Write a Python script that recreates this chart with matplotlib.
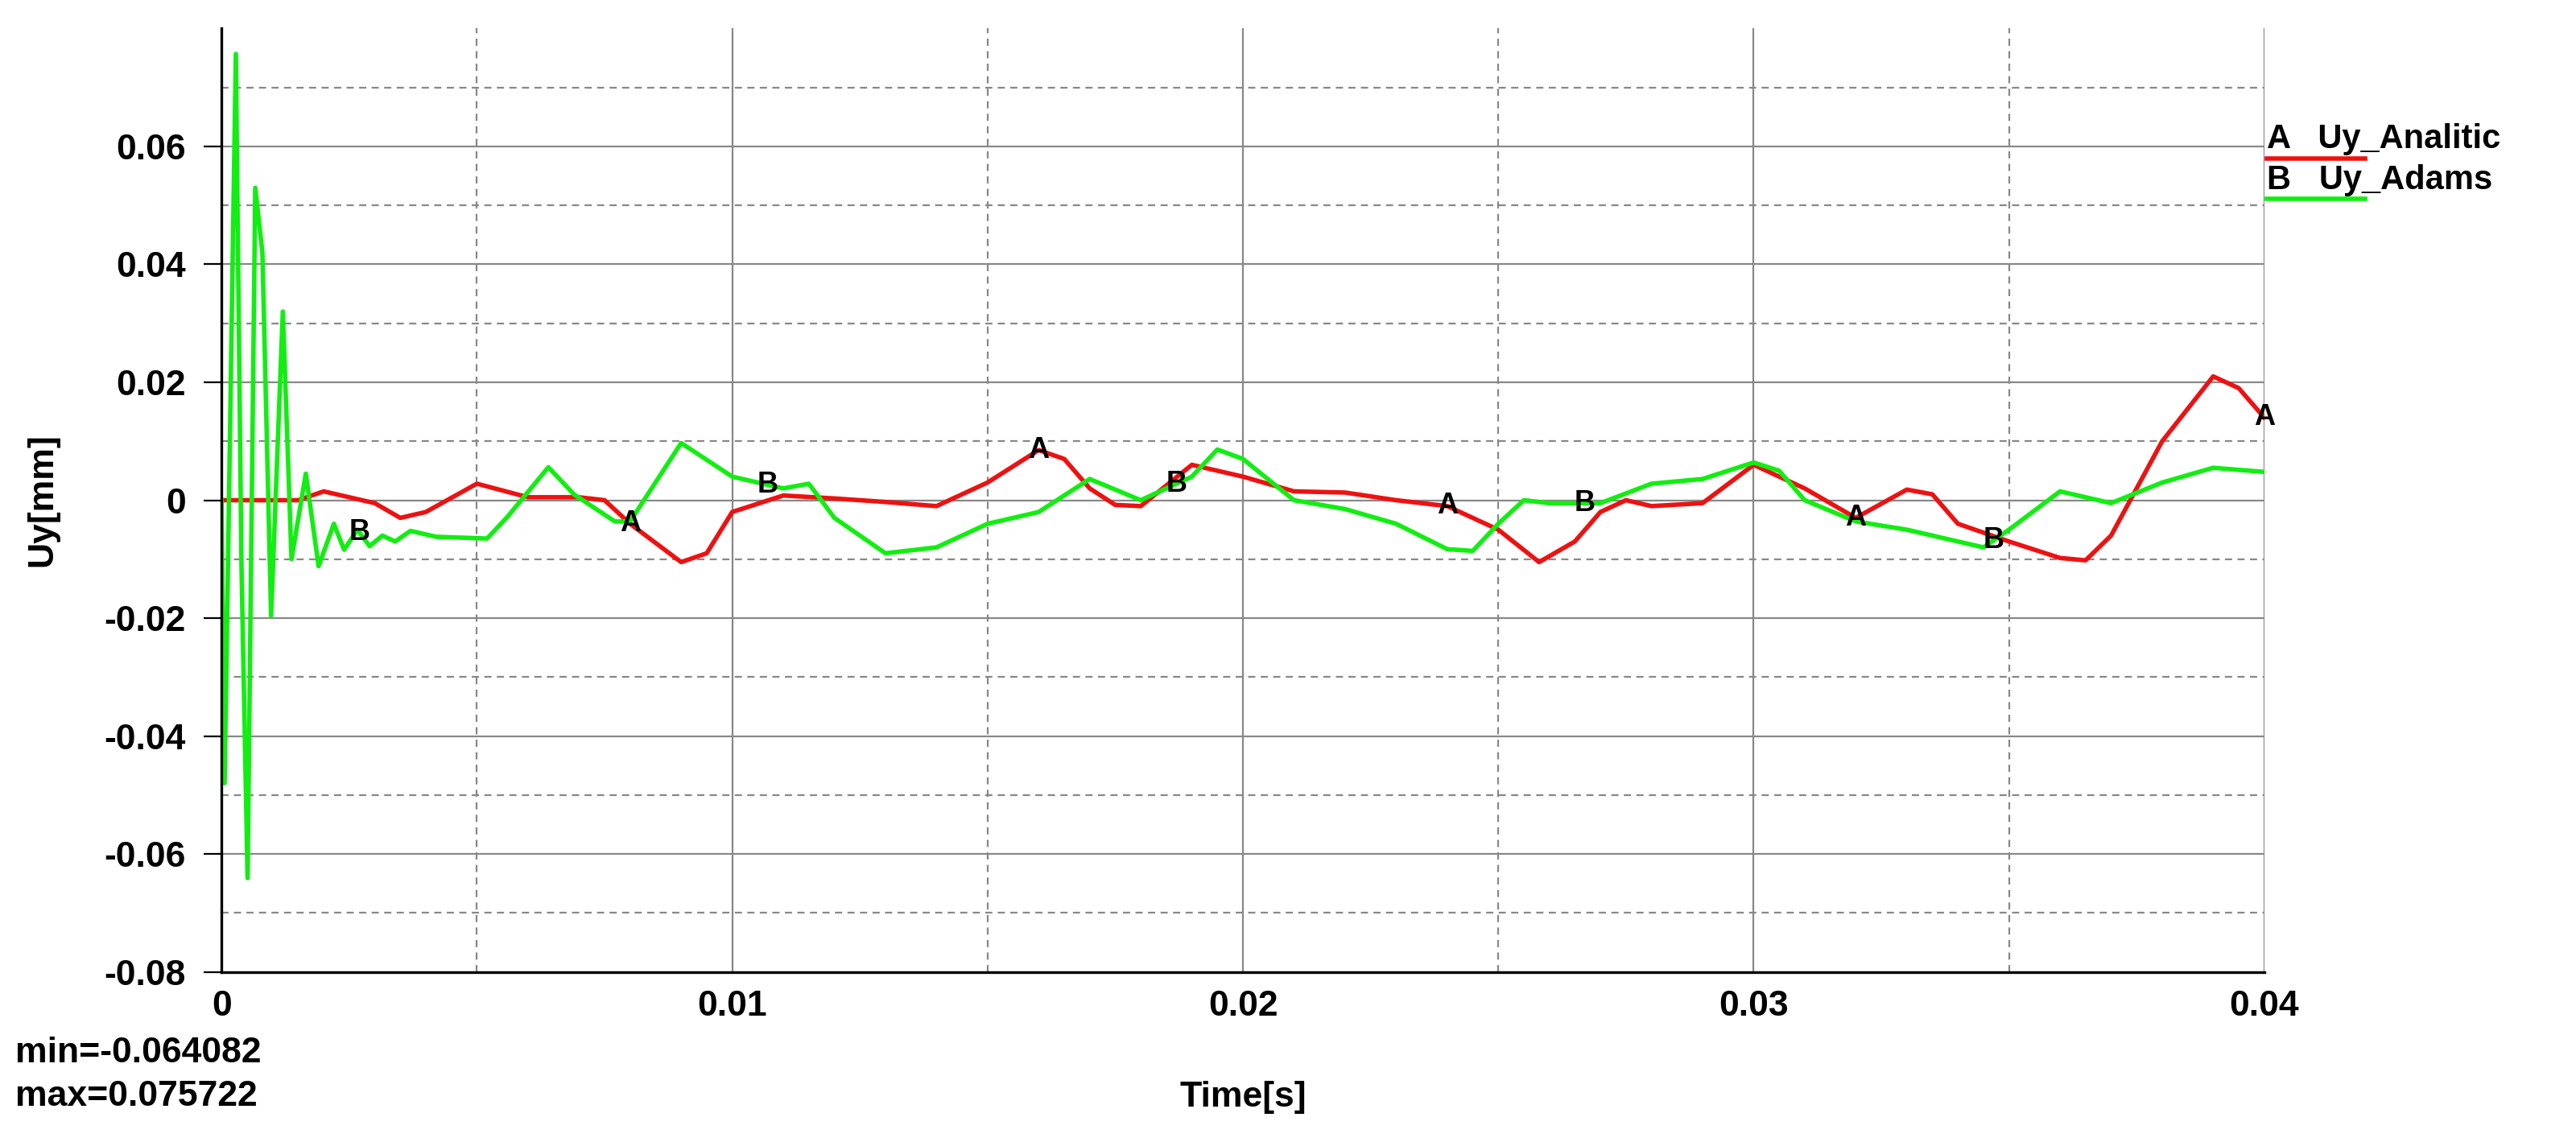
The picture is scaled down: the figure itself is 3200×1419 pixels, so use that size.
import numpy as np
import matplotlib.pyplot as plt
from matplotlib.lines import Line2D

plt.rcParams['font.family'] = ['Liberation Sans', 'DejaVu Sans']
plt.rcParams['font.weight'] = 'bold'
plt.rcParams['axes.labelweight'] = 'bold'

# Uy_Adams (green)
t_adams = [0, 0.00006, 0.00028, 0.00039, 0.00051, 0.00066, 0.0008, 0.00097, 0.0012, 0.00137,
           0.00165, 0.0019, 0.0022, 0.0024, 0.00266, 0.0029, 0.00315, 0.0034, 0.0037, 0.0042,
           0.0052, 0.0056, 0.0064, 0.0069, 0.0077, 0.008, 0.009, 0.010, 0.011, 0.0115,
           0.012, 0.013, 0.014, 0.015, 0.016, 0.017, 0.018, 0.019, 0.0195, 0.020,
           0.021, 0.022, 0.023, 0.024, 0.0245, 0.025, 0.0255, 0.026, 0.027, 0.028,
           0.029, 0.030, 0.0305, 0.031, 0.032, 0.033, 0.034, 0.0345, 0.035, 0.036,
           0.037, 0.038, 0.039, 0.040]
uy_adams = [0, -0.048, 0.0757, -0.011, -0.0641, 0.053, 0.042, -0.0196, 0.032, -0.010,
            0.0045, -0.0112, -0.004, -0.0084, -0.005, -0.0078, -0.006, -0.007, -0.0052, -0.0062,
            -0.0065, -0.0028, 0.0056, 0.001, -0.0036, -0.0036, 0.0097, 0.004, 0.002, 0.0028,
            -0.003, -0.009, -0.008, -0.004, -0.002, 0.0036, 0.0, 0.004, 0.0086, 0.007,
            0.0, -0.0015, -0.004, -0.0083, -0.0086, -0.004, 0.0, -0.0005, -0.0005, 0.0028,
            0.0036, 0.0064, 0.005, 0.0, -0.0036, -0.005, -0.007, -0.008, -0.005, 0.0015,
            -0.0005, 0.003, 0.0055, 0.0048]

# Uy_Analitic (red)
t_anal = [0, 0.0015, 0.002, 0.003, 0.0035, 0.004, 0.005, 0.006, 0.007, 0.0075,
          0.008, 0.009, 0.0095, 0.010, 0.011, 0.012, 0.013, 0.014, 0.015, 0.016,
          0.0165, 0.017, 0.0175, 0.018, 0.019, 0.020, 0.021, 0.022, 0.023, 0.024,
          0.025, 0.0258, 0.0265, 0.027, 0.0275, 0.028, 0.029, 0.030, 0.031, 0.032,
          0.033, 0.0335, 0.034, 0.035, 0.036, 0.0365, 0.037, 0.038, 0.039, 0.0395, 0.040]
uy_anal = [0, 0, 0.0015, -0.0005, -0.003, -0.002, 0.0028, 0.0005, 0.0005, 0,
           -0.004, -0.0105, -0.009, -0.002, 0.0008, 0.0003, -0.0003, -0.001, 0.003, 0.0085,
           0.007, 0.002, -0.0008, -0.001, 0.006, 0.004, 0.0015, 0.0013, 0, -0.001,
           -0.005, -0.0105, -0.007, -0.002, 0, -0.001, -0.0005, 0.006, 0.002, -0.003,
           0.0018, 0.001, -0.004, -0.007, -0.0098, -0.0102, -0.006, 0.01, 0.021, 0.019, 0.014]

marks_a = [0.008, 0.016, 0.024, 0.032, 0.040]
marks_b = [0.0027, 0.0107, 0.0187, 0.0267, 0.0347]

red = '#ee1111'
green = '#11ee11'

fig = plt.figure(figsize=(16, 7.095), dpi=200)
ax = fig.add_axes([0.086, 0.149, 0.793, 0.826])

ax.plot(t_anal, uy_anal, color=red, lw=2)
ax.plot(t_adams, uy_adams, color=green, lw=2)

for tm in marks_a:
    ax.text(tm, np.interp(tm, t_anal, uy_anal), 'A', ha='center', va='center', fontsize=13)
for tm in marks_b:
    ax.text(tm, np.interp(tm, t_adams, uy_adams), 'B', ha='center', va='center', fontsize=13)

ax.set_xlim(0, 0.04)
ax.set_ylim(-0.08, 0.08)
ax.set_xticks([0, 0.01, 0.02, 0.03, 0.04])
ax.set_xticklabels(['0', '0.01', '0.02', '0.03', '0.04'])
ax.set_yticks(np.arange(-0.08, 0.061, 0.02))
ax.set_yticklabels(['-0.08', '-0.06', '-0.04', '-0.02', '0', '0.02', '0.04', '0.06'])
ax.set_xticks(np.arange(0.005, 0.04, 0.01), minor=True)
ax.set_yticks(np.arange(-0.07, 0.08, 0.02), minor=True)
ax.grid(True, which='major', color='#888888', lw=0.8)
ax.grid(True, which='minor', color='#888888', lw=0.8, ls=(0, (4, 3)))
ax.tick_params(which='both', length=0, labelsize=16, pad=8)
ax.tick_params(axis='y', which='major', length=8, color='black', direction='out')
for s in ['top', 'right']:
    ax.spines[s].set_visible(False)
ax.spines['left'].set_linewidth(1.2)
ax.spines['bottom'].set_linewidth(1.2)

ax.set_xlabel('Time[s]', fontsize=16, labelpad=26)
ax.set_ylabel('Uy[mm]', fontsize=16, labelpad=20)

fig.text(0.006, 0.078, 'min=-0.064082', fontsize=16, va='center')
fig.text(0.006, 0.040, 'max=0.075722', fontsize=16, va='center')

# legend at top right
fig.text(0.880, 0.878, 'A   Uy_Analitic', fontsize=15, va='center')
fig.add_artist(Line2D([0.880, 0.918], [0.861, 0.861], color=red, lw=2))
fig.text(0.880, 0.842, 'B   Uy_Adams', fontsize=15, va='center')
fig.add_artist(Line2D([0.880, 0.918], [0.826, 0.826], color=green, lw=2))

plt.savefig('out.png')
